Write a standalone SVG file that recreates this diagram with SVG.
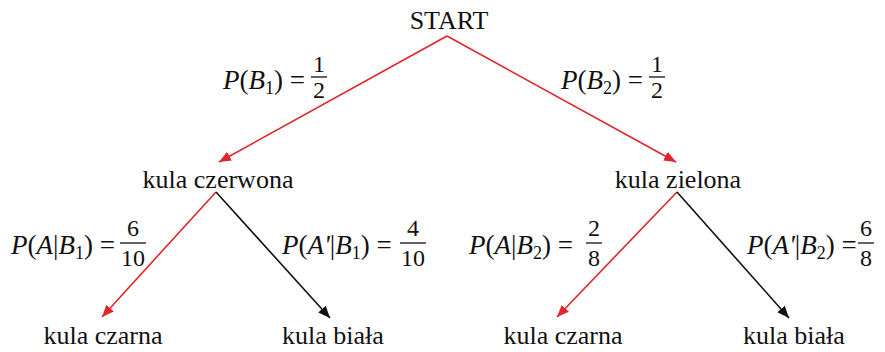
<svg xmlns="http://www.w3.org/2000/svg" width="885" height="352" viewBox="0 0 885 352">
<defs>
<marker id="ar" viewBox="0 0 12 10" refX="12" refY="5" markerWidth="12" markerHeight="10" markerUnits="userSpaceOnUse" orient="auto"><path d="M0,0 L12,5 L0,10 Z" fill="#e0252b"/></marker>
<marker id="ak" viewBox="0 0 12 10" refX="12" refY="5" markerWidth="12" markerHeight="10" markerUnits="userSpaceOnUse" orient="auto"><path d="M0,0 L12,5 L0,10 Z" fill="#111111"/></marker>
</defs>
<rect width="885" height="352" fill="#ffffff"/>
<g id="connectors" fill="none" stroke-width="1.6">
<line stroke="#e0252b" x1="447" y1="36" x2="219" y2="162" marker-end="url(#ar)"/>
<line stroke="#e0252b" x1="447" y1="36" x2="676" y2="162" marker-end="url(#ar)"/>
<line stroke="#e0252b" x1="216" y1="192" x2="102" y2="317" marker-end="url(#ar)"/>
<line stroke="#111111" x1="216" y1="192" x2="330" y2="318" marker-end="url(#ak)"/>
<line stroke="#e0252b" x1="677" y1="192" x2="557" y2="317" marker-end="url(#ar)"/>
<line stroke="#111111" x1="677" y1="192" x2="789" y2="318" marker-end="url(#ak)"/>
</g>
<g id="start"><text font-family="Liberation Serif" font-size="26" fill="#111111" text-anchor="middle" x="449" y="29">START</text></g>
<g id="kula-czerwona"><text font-family="Liberation Serif" font-size="26" fill="#111111" text-anchor="middle" x="218" y="188">kula czerwona</text></g>
<g id="kula-zielona"><text font-family="Liberation Serif" font-size="26" fill="#111111" text-anchor="middle" x="678" y="188">kula zielona</text></g>
<g id="kula-czarna-1"><text font-family="Liberation Serif" font-size="26" fill="#111111" text-anchor="middle" x="103" y="344">kula czarna</text></g>
<g id="kula-biala-1"><text font-family="Liberation Serif" font-size="26" fill="#111111" text-anchor="middle" x="333" y="344">kula biała</text></g>
<g id="kula-czarna-2"><text font-family="Liberation Serif" font-size="26" fill="#111111" text-anchor="middle" x="563" y="344">kula czarna</text></g>
<g id="kula-biala-2"><text font-family="Liberation Serif" font-size="26" fill="#111111" text-anchor="middle" x="794" y="344">kula biała</text></g>
<g id="label-b1" fill="#111111" stroke-width="1.3">
<text font-family="Liberation Serif" font-size="27" x="223" y="89"><tspan font-family="Liberation Serif" font-style="italic">P</tspan>(<tspan font-family="Liberation Serif" font-style="italic">B</tspan><tspan font-family="Liberation Serif" font-size="18" dy="5">1</tspan><tspan font-family="Liberation Serif" dy="-5">) =</tspan></text>
<text font-family="Liberation Serif" font-size="24" text-anchor="middle" x="319" y="72">1</text><line stroke="#111111" x1="311" y1="77" x2="327" y2="77"/><text font-family="Liberation Serif" font-size="24" text-anchor="middle" x="319" y="98">2</text>
</g>
<g id="label-b2" fill="#111111" stroke-width="1.3">
<text font-family="Liberation Serif" font-size="27" x="561" y="89"><tspan font-family="Liberation Serif" font-style="italic">P</tspan>(<tspan font-family="Liberation Serif" font-style="italic">B</tspan><tspan font-family="Liberation Serif" font-size="18" dy="5">2</tspan><tspan font-family="Liberation Serif" dy="-5">) =</tspan></text>
<text font-family="Liberation Serif" font-size="24" text-anchor="middle" x="657" y="72">1</text><line stroke="#111111" x1="649" y1="77" x2="665" y2="77"/><text font-family="Liberation Serif" font-size="24" text-anchor="middle" x="657" y="98">2</text>
</g>
<g id="label-ab1" fill="#111111" stroke-width="1.3">
<text font-family="Liberation Serif" font-size="27" x="11" y="254"><tspan font-family="Liberation Serif" font-style="italic">P</tspan>(<tspan font-family="Liberation Serif" font-style="italic">A</tspan>|<tspan font-family="Liberation Serif" font-style="italic">B</tspan><tspan font-family="Liberation Serif" font-size="18" dy="5">1</tspan><tspan font-family="Liberation Serif" dy="-5">) =</tspan></text>
<text font-family="Liberation Serif" font-size="24" text-anchor="middle" x="133" y="236">6</text><line stroke="#111111" x1="120" y1="243" x2="146" y2="243"/><text font-family="Liberation Serif" font-size="24" text-anchor="middle" x="133" y="266">10</text>
</g>
<g id="label-anb1" fill="#111111" stroke-width="1.3">
<text font-family="Liberation Serif" font-size="27" x="282" y="254"><tspan font-family="Liberation Serif" font-style="italic">P</tspan>(<tspan font-family="Liberation Serif" font-style="italic">A'</tspan>|<tspan font-family="Liberation Serif" font-style="italic">B</tspan><tspan font-family="Liberation Serif" font-size="18" dy="5">1</tspan><tspan font-family="Liberation Serif" dy="-5">) =</tspan></text>
<text font-family="Liberation Serif" font-size="24" text-anchor="middle" x="413" y="236">4</text><line stroke="#111111" x1="400" y1="243" x2="426" y2="243"/><text font-family="Liberation Serif" font-size="24" text-anchor="middle" x="413" y="266">10</text>
</g>
<g id="label-ab2" fill="#111111" stroke-width="1.3">
<text font-family="Liberation Serif" font-size="27" x="469" y="254"><tspan font-family="Liberation Serif" font-style="italic">P</tspan>(<tspan font-family="Liberation Serif" font-style="italic">A</tspan>|<tspan font-family="Liberation Serif" font-style="italic">B</tspan><tspan font-family="Liberation Serif" font-size="18" dy="5">2</tspan><tspan font-family="Liberation Serif" dy="-5">) =</tspan></text>
<text font-family="Liberation Serif" font-size="24" text-anchor="middle" x="594" y="236">2</text><line stroke="#111111" x1="586" y1="243" x2="602" y2="243"/><text font-family="Liberation Serif" font-size="24" text-anchor="middle" x="594" y="266">8</text>
</g>
<g id="label-anb2" fill="#111111" stroke-width="1.3">
<text font-family="Liberation Serif" font-size="27" x="747" y="254"><tspan font-family="Liberation Serif" font-style="italic">P</tspan>(<tspan font-family="Liberation Serif" font-style="italic">A'</tspan>|<tspan font-family="Liberation Serif" font-style="italic">B</tspan><tspan font-family="Liberation Serif" font-size="18" dy="5">2</tspan><tspan font-family="Liberation Serif" dy="-5">) =</tspan></text>
<text font-family="Liberation Serif" font-size="24" text-anchor="middle" x="866" y="236">6</text><line stroke="#111111" x1="858" y1="243" x2="874" y2="243"/><text font-family="Liberation Serif" font-size="24" text-anchor="middle" x="866" y="266">8</text>
</g>
</svg>
